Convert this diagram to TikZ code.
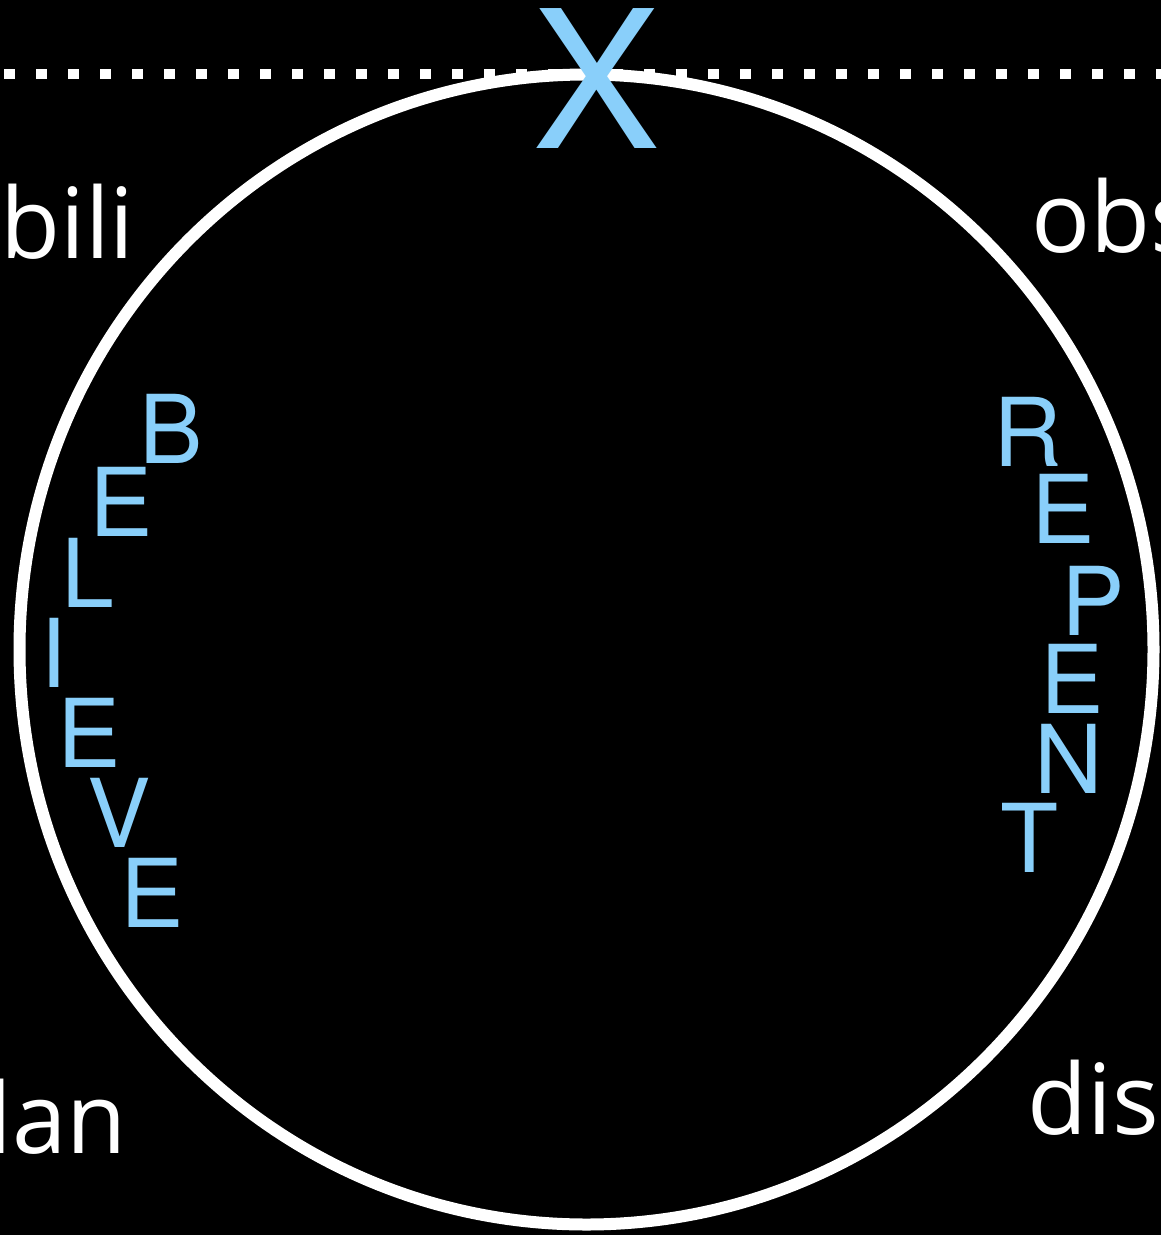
\documentclass[tikz,border=0pt]{standalone}
\usepackage{fontspec}
\newfontfamily\heros{TeX Gyre Heros}
\newfontfamily\opensans{Open Sans}
\definecolor{skyb}{RGB}{137,207,250}
\begin{document}
\begin{tikzpicture}[x=1pt,y=-1pt,
  letter/.style={inner sep=0pt, text=skyb, font=\heros\fontsize{95}{95}\selectfont, anchor=center},
  bigx/.style={inner sep=0pt, text=skyb, font=\heros\fontsize{192}{192}\selectfont, anchor=center},
  word/.style={inner sep=0pt, text=white, font=\opensans\fontsize{98}{98}\selectfont, anchor=base west},
  ring/.style={draw=white, line width=12pt},
  dots/.style={draw=white, line width=10pt, dash pattern=on 11pt off 21pt}]
\useasboundingbox (0,0) rectangle (1161,1235);
\fill[black] (0,0) rectangle (1161,1235);
\clip (0,0) rectangle (1161,1235);
% dotted line
\coordinate (dl) at (4.3,74);
\coordinate (dr) at (1170,74);
\draw[dots] (dl) -- (dr);
% circle
\coordinate (c) at (586.5,649.5);
\draw[ring] (c) ellipse [x radius=567pt, y radius=575pt];
% white words
\node[word] (w1) at (0,258) {bili};
\node[word] (w2) at (1031.5,252) {obs};
\node[word] (w3) at (-12.8,1153) {lan};
\node[word] (w4) at (1027.5,1134) {dis};
% BELIEVE
\node[letter] (b1) at (171.5,429) {B};
\node[letter] (b2) at (121,502) {E};
\node[letter] (b3) at (87.5,573) {L};
\node[letter] (b4) at (53.5,653) {I};
\node[letter] (b5) at (89,733) {E};
\node[letter] (b6) at (119,813) {V};
\node[letter] (b7) at (152.5,893) {E};
% REPENT
\node[letter] (r1) at (1028,432) {R};
\node[letter] (r2) at (1063,509) {E};
\node[letter] (r3) at (1093,601) {P};
\node[letter] (r4) at (1072,679) {E};
\node[letter] (r5) at (1069,759) {N};
\node[letter] (r6) at (1030,838) {T};
% X
\node[bigx] (x) at (596.5,78.5) {X};
\end{tikzpicture}
\end{document}
